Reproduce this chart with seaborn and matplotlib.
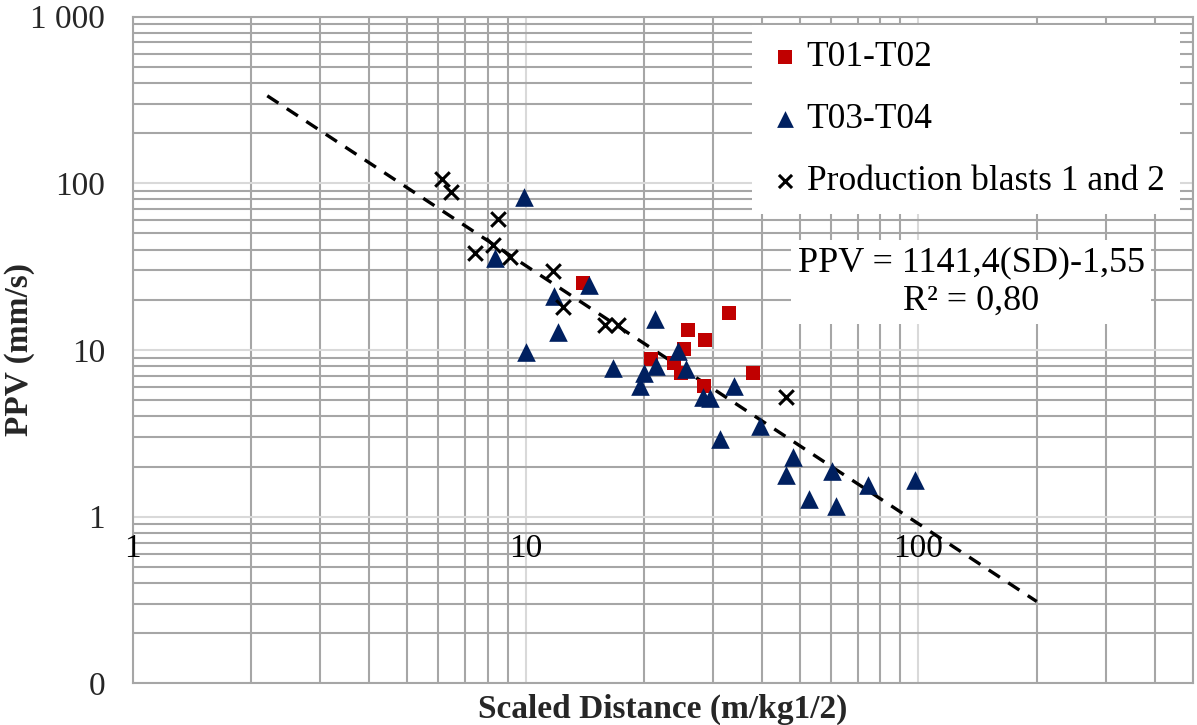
import numpy as np
import pandas as pd
import seaborn as sns
import matplotlib.pyplot as plt
from matplotlib.ticker import LogLocator, NullFormatter, FixedLocator, FixedFormatter

# test blasts T01-T02 (scaled distance, PPV)
t12_sd = [13.97, 32.9, 25.9, 28.7, 25.3, 20.8, 23.9, 24.9, 37.9, 28.4]
t12_ppv = [25.1, 16.7, 13.2, 11.5, 10.1, 8.83, 8.30, 7.28, 7.30, 6.04]

# test blasts T03-T04
t34_sd = [9.90, 8.35, 14.52, 11.80, 12.11, 10.0, 21.3, 16.71, 24.4, 21.5,
          20.0, 25.6, 19.6, 28.3, 29.5, 34.0, 39.5, 31.3, 48.0, 45.9,
          60.1, 52.7, 61.8, 74.5, 97.9]
t34_ppv = [83.1, 35.5, 24.5, 21.2, 12.9, 9.77, 15.3, 7.80, 9.82, 8.02,
           7.29, 7.71, 6.05, 5.25, 5.13, 6.05, 3.50, 2.91, 2.27, 1.78,
           1.89, 1.27, 1.16, 1.55, 1.66]

# production blasts 1 and 2
prod_sd = [6.11, 6.44, 8.52, 7.43, 8.24, 9.12, 11.75, 12.47, 15.91, 17.21, 46.1]
prod_ppv = [105.7, 89.1, 60.8, 38.0, 42.6, 36.0, 29.9, 18.2, 14.1, 14.1, 5.25]

# power-law trend line end points
trend_sd = [2.2, 200]
trend_ppv = [335, 0.31]

y_ticks = [0.1, 1, 10, 100, 1000]
y_labels = ['0', '1', '10', '100', '1 000']
x_ticks = [1, 10, 100]
x_labels = ['1', '10', '100']

series_names = ['T01-T02', 'T03-T04', 'Production blasts 1 and 2']
equation = 'PPV = 1141,4(SD)-1,55\nR² = 0,80'


def main():
    sns.set_style("white")
    plt.rcParams['font.family'] = ['Liberation Serif', 'DejaVu Serif']
    plt.rcParams['text.color'] = 'black'

    fig, ax = plt.subplots(figsize=(11.97, 7.25), dpi=100)
    fig.subplots_adjust(left=0.1109, right=0.9967, top=0.9771, bottom=0.0574)

    ax.set_xscale('log')
    ax.set_yscale('log')
    ax.set_xlim(1, 500)
    ax.set_ylim(0.1, 1000)

    # grid like excel: darker minor lines, lighter decade lines
    ax.xaxis.set_major_locator(FixedLocator(x_ticks))
    ax.yaxis.set_major_locator(FixedLocator(y_ticks))
    ax.yaxis.set_major_formatter(FixedFormatter(y_labels))
    ax.xaxis.set_major_formatter(NullFormatter())
    ax.xaxis.set_minor_locator(LogLocator(base=10, subs=np.arange(2, 10), numticks=20))
    ax.yaxis.set_minor_locator(LogLocator(base=10, subs=np.arange(2, 10), numticks=20))
    ax.xaxis.set_minor_formatter(NullFormatter())
    ax.yaxis.set_minor_formatter(NullFormatter())
    ax.grid(True, which='minor', color='#a6a6a6', linewidth=1.5)
    ax.grid(True, which='major', color='#d9d9d9', linewidth=1.5)
    ax.set_axisbelow(True)
    ax.tick_params(which='both', length=0)
    ax.tick_params(axis='y', labelsize=24, pad=20)
    for sp in ax.spines.values():
        sp.set_color('#a6a6a6')
        sp.set_linewidth(1.5)

    # x tick labels sit just under the y=1 line (excel axis crossing)
    for xv, lab in zip(x_ticks, x_labels):
        ax.annotate(lab, xy=(xv, 1), xycoords='data', xytext=(0, -23),
                    textcoords='offset points', ha='center', va='center',
                    fontsize=24, annotation_clip=False)

    ax.plot(trend_sd, trend_ppv, color='black', linewidth=2.4,
            linestyle=(0, (4, 3)), zorder=2)

    sns.scatterplot(x=t12_sd, y=t12_ppv, marker='s', color='#c00000', s=110,
                    linewidth=0, label=series_names[0], ax=ax, zorder=3)
    sns.scatterplot(x=t34_sd, y=t34_ppv, marker='^', color='#002060', s=180,
                    linewidth=0, label=series_names[1], ax=ax, zorder=4)
    sns.scatterplot(x=prod_sd, y=prod_ppv, marker='x', color='black', s=110,
                    linewidth=2.2, label=series_names[2], ax=ax, zorder=5)

    leg = ax.legend(loc='upper right', bbox_to_anchor=(0.988, 0.987), fontsize=25.5,
                    frameon=True, fancybox=False, framealpha=1, facecolor='white',
                    edgecolor='none', handletextpad=0.1, labelspacing=0.82,
                    borderpad=0.45, borderaxespad=0, markerscale=0.9,
                    handlelength=1.0)
    leg.set_zorder(10)

    ax.text(0.7906, 0.602, equation, transform=ax.transAxes, ha='center',
            va='center', multialignment='center', fontsize=26, zorder=10,
            bbox=dict(facecolor='white', edgecolor='none', pad=5))

    ax.set_ylabel('PPV (mm/s)', fontsize=24, fontweight='bold')
    ax.yaxis.set_label_coords(-0.092, 0.5)
    ax.set_xlabel('Scaled Distance (m/kg1/2)', fontsize=24, fontweight='bold', labelpad=4)

    plt.savefig('out.png', dpi=100)


if __name__ == '__main__':
    main()
